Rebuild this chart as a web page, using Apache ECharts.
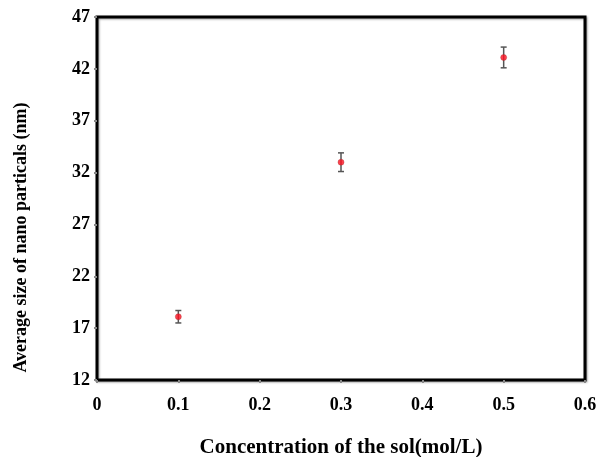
<!DOCTYPE html>
<html>
<head>
<meta charset="utf-8">
<script src="https://cdn.jsdelivr.net/npm/echarts@6/dist/echarts.min.js"></script>
<style>html,body{margin:0;padding:0;background:#fff}#c{width:603px;height:457px}</style>
</head>
<body>
<div id="c"></div>
<script>
var concentrations = [0.1, 0.3, 0.5];
var sizes = [18.1, 33.0, 43.1];
var errors = [0.6, 0.9, 1.0];
var xTicks = [0, 0.1, 0.2, 0.3, 0.4, 0.5, 0.6];
var yTicks = [12, 17, 22, 27, 32, 37, 42, 47];

var font = 'Liberation Serif';
var chart = echarts.init(document.getElementById('c'));
var errData = concentrations.map(function (x, i) { return [x, sizes[i] - errors[i], sizes[i] + errors[i]]; });
var ptData = concentrations.map(function (x, i) { return [x, sizes[i]]; });

chart.setOption({
  animation: false,
  grid: { left: 97, right: 18, top: 17, bottom: 77, show: true, borderColor: '#000', borderWidth: 3,
          outerBoundsMode: 'none', containLabel: false,
          shadowColor: 'rgba(0,0,0,0.35)', shadowBlur: 2, shadowOffsetX: 1, shadowOffsetY: 1, backgroundColor: '#fff' },
  xAxis: {
    type: 'value', min: 0, max: 0.6, interval: 0.1,
    name: 'Concentration of the sol(mol/L)', nameLocation: 'middle', nameGap: 57,
    nameTextStyle: { fontFamily: font, fontWeight: 'bold', fontSize: 21, color: '#000' },
    axisLine: { show: false },
    axisTick: { show: true, length: 3, lineStyle: { color: '#888', width: 2 } },
    splitLine: { show: false },
    axisLabel: { fontFamily: font, fontWeight: 'bold', fontSize: 18, color: '#000', margin: 16,
      formatter: function (v) { return xTicks.indexOf(Math.round(v * 10) / 10) >= 0 ? String(Math.round(v * 10) / 10) : ''; } }
  },
  yAxis: {
    type: 'value', min: 12, max: 47, interval: 5,
    name: 'Average size of nano particals (nm)', nameLocation: 'middle', nameGap: 67,
    nameTextStyle: { fontFamily: font, fontWeight: 'bold', fontSize: 18, color: '#000', padding: [0, 78, 0, 0] },
    axisLine: { show: false },
    axisTick: { show: true, length: 3, lineStyle: { color: '#888', width: 2 } },
    splitLine: { show: false },
    axisLabel: { fontFamily: font, fontWeight: 'bold', fontSize: 18, color: '#000', margin: 7,
      formatter: function (v) { return yTicks.indexOf(v) >= 0 ? String(v) : ''; } }
  },
  series: [
    {
      type: 'custom',
      data: errData,
      renderItem: function (params, api) {
        var x = api.value(0);
        var lo = api.coord([x, api.value(1)]);
        var hi = api.coord([x, api.value(2)]);
        var cap = 3;
        var style = { stroke: '#555', lineWidth: 1.5 };
        return { type: 'group', children: [
          { type: 'line', shape: { x1: lo[0], y1: lo[1], x2: hi[0], y2: hi[1] }, style: style },
          { type: 'line', shape: { x1: lo[0] - cap, y1: lo[1], x2: lo[0] + cap, y2: lo[1] }, style: style },
          { type: 'line', shape: { x1: hi[0] - cap, y1: hi[1], x2: hi[0] + cap, y2: hi[1] }, style: style }
        ] };
      },
      z: 2
    },
    {
      type: 'scatter',
      data: ptData,
      symbol: 'circle',
      symbolSize: 6,
      itemStyle: { color: '#ff1020', borderColor: '#a33', borderWidth: 0.5 },
      z: 3
    }
  ]
});
</script>
</body>
</html>
